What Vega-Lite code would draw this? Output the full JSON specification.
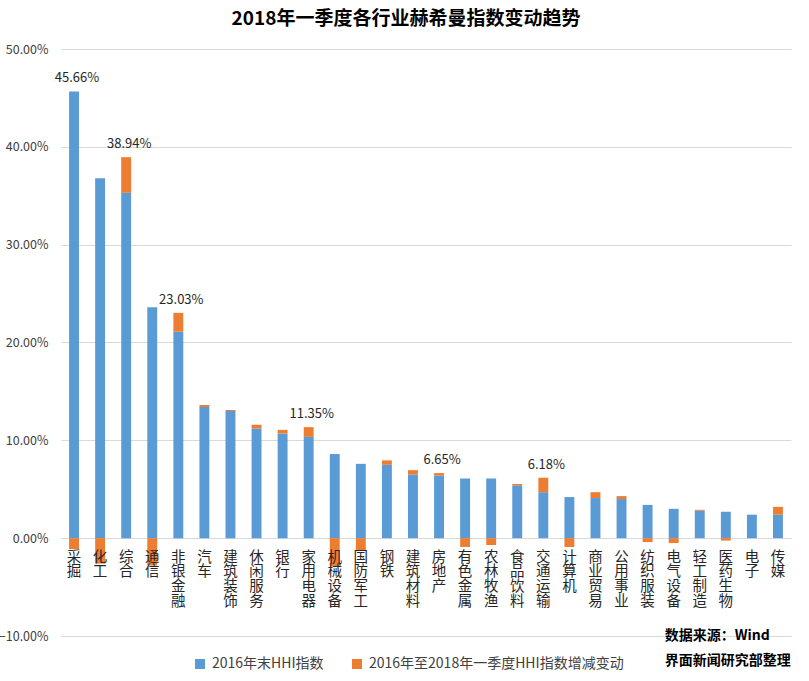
{
  "$schema": "https://vega.github.io/schema/vega-lite/v6.json",
  "width": 730,
  "height": 587,
  "autosize": "none",
  "padding": {"left": 61, "top": 49, "right": 18, "bottom": 45},
  "background": "white",
  "config": {"font": "Noto Sans CJK SC", "view": {"stroke": null}},
  "title": {"text": "2018年一季度各行业赫希曼指数变动趋势", "fontSize": 19, "fontWeight": "bold", "color": "#000000", "dx": -20, "offset": 14, "anchor": "middle"},
  "data": {"values": [
    {"industry": "采掘", "hhi": 0.4566, "change": -0.011, "label": 0.4566},
    {"industry": "化工", "hhi": 0.368, "change": -0.026},
    {"industry": "综合", "hhi": 0.353, "change": 0.0364, "label": 0.3894},
    {"industry": "通信", "hhi": 0.236, "change": -0.028},
    {"industry": "非银金融", "hhi": 0.211, "change": 0.0193, "label": 0.2303},
    {"industry": "汽车", "hhi": 0.134, "change": 0.002},
    {"industry": "建筑装饰", "hhi": 0.130, "change": 0.001},
    {"industry": "休闲服务", "hhi": 0.112, "change": 0.004},
    {"industry": "银行", "hhi": 0.107, "change": 0.0037},
    {"industry": "家用电器", "hhi": 0.1035, "change": 0.01, "label": 0.1135},
    {"industry": "机械设备", "hhi": 0.086, "change": -0.029},
    {"industry": "国防军工", "hhi": 0.076, "change": -0.013},
    {"industry": "钢铁", "hhi": 0.075, "change": 0.0045},
    {"industry": "建筑材料", "hhi": 0.065, "change": 0.0045},
    {"industry": "房地产", "hhi": 0.064, "change": 0.0025, "label": 0.0665},
    {"industry": "有色金属", "hhi": 0.061, "change": -0.009},
    {"industry": "农林牧渔", "hhi": 0.061, "change": -0.007},
    {"industry": "食品饮料", "hhi": 0.054, "change": 0.0014},
    {"industry": "交通运输", "hhi": 0.047, "change": 0.0148, "label": 0.0618},
    {"industry": "计算机", "hhi": 0.042, "change": -0.009},
    {"industry": "商业贸易", "hhi": 0.041, "change": 0.006},
    {"industry": "公用事业", "hhi": 0.040, "change": 0.003},
    {"industry": "纺织服装", "hhi": 0.034, "change": -0.004},
    {"industry": "电气设备", "hhi": 0.030, "change": -0.005},
    {"industry": "轻工制造", "hhi": 0.028, "change": 0.001},
    {"industry": "医药生物", "hhi": 0.027, "change": -0.0025},
    {"industry": "电子", "hhi": 0.024, "change": 0},
    {"industry": "传媒", "hhi": 0.024, "change": 0.008}
  ]},
  "layer": [
    {
      "transform": [{"fold": ["hhi", "change"], "as": ["series", "value"]}],
      "mark": {"type": "bar"},
      "encoding": {
        "x": {
          "field": "industry", "type": "nominal", "sort": null,
          "scale": {"paddingInner": 0.62, "paddingOuter": 0.31},
          "axis": {
            "title": null, "orient": "bottom", "offset": -97.83, "domain": false, "ticks": false,
            "labelAngle": 0, "labelExpr": "split(datum.label, '')", "labelBaseline": "top",
            "labelAlign": "center", "labelFontSize": 14.5, "labelLineHeight": 14.8, "labelPadding": 12,
            "labelColor": "#262626", "grid": false, "labelOverlap": false, "zindex": 1
          }
        },
        "y": {
          "field": "value", "type": "quantitative", "stack": "zero",
          "scale": {"domain": [-0.1, 0.5], "nice": false},
          "axis": {
            "title": null, "values": [-0.1, 0, 0.1, 0.2, 0.3, 0.4, 0.5], "format": ".2%",
            "domain": false, "ticks": false, "gridColor": "#d9d9d9", "labelFontSize": 12.5,
            "labelColor": "#404040", "labelPadding": 13
          }
        },
        "color": {
          "field": "series", "type": "nominal",
          "scale": {"domain": ["hhi", "change"], "range": ["#5B9BD5", "#ED7D31"]},
          "legend": {
            "orient": "none", "legendX": 132, "legendY": 608, "direction": "horizontal", "title": null,
            "symbolType": "square", "symbolSize": 100, "symbolStrokeWidth": 0, "labelFontSize": 14,
            "labelColor": "#404040", "columnPadding": 26, "labelOffset": 5, "labelLimit": 500,
            "labelExpr": "datum.value == 'hhi' ? '2016年末HHI指数' : '2016年至2018年一季度HHI指数增减变动'"
          }
        },
        "order": {"field": "series", "sort": "descending"}
      }
    },
    {
      "transform": [{"filter": "datum.label != null"}],
      "mark": {"type": "text", "dy": -9, "dx": 3, "fontSize": 13, "baseline": "alphabetic", "color": "#262626"},
      "encoding": {
        "x": {"field": "industry", "type": "nominal", "sort": null},
        "y": {"field": "label", "type": "quantitative"},
        "text": {"field": "label", "type": "quantitative", "format": ".2%"}
      }
    },
    {
      "data": {"values": [{"note": "source"}]},
      "mark": {"type": "text", "text": ["数据来源：Wind", "界面新闻研究部整理"], "align": "left", "baseline": "middle", "fontWeight": "bold", "fontSize": 14, "lineHeight": 25, "dx": -9, "color": "#000000"},
      "encoding": {
        "x": {"datum": "电气设备"},
        "y": {"datum": -0.1}
      }
    }
  ]
}
